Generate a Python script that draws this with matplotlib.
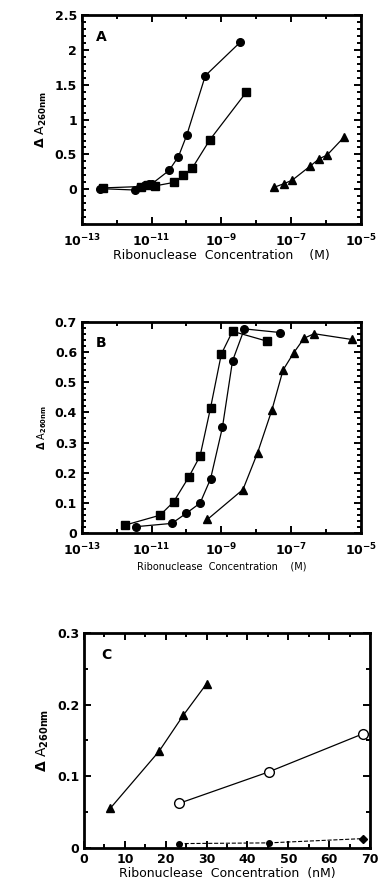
import numpy as np
import matplotlib
matplotlib.use("Agg")
import matplotlib.pyplot as plt
from matplotlib.ticker import MultipleLocator, FixedLocator, NullFormatter

plt.rcParams['font.family'] = ['DejaVu Sans']
plt.rcParams['font.weight'] = 'bold'
plt.rcParams['mathtext.default'] = 'bf'

# panel A (log10 of concentration, M)
a_circ_logx = [-12.49, -11.49, -11.34, -11.18, -11.08, -10.99, -10.50, -10.23, -9.99, -9.46, -8.46]
a_circ_y = [0.01, -0.01, 0.03, 0.06, 0.07, 0.08, 0.27, 0.47, 0.78, 1.63, 2.11]
a_sq_logx = [-12.39, -11.30, -11.10, -10.89, -10.35, -10.09, -9.84, -9.33, -8.29]
a_sq_y = [0.02, 0.04, 0.06, 0.05, 0.10, 0.20, 0.30, 0.71, 1.39]
a_tri_logx = [-7.48, -7.21, -6.97, -6.46, -6.19, -5.97, -5.48]
a_tri_y = [0.03, 0.08, 0.13, 0.33, 0.44, 0.49, 0.75]

# panel B
b_sq_logx = [-11.77, -10.76, -10.37, -9.94, -9.61, -9.31, -9.00, -8.68, -7.68]
b_sq_y = [0.027, 0.060, 0.104, 0.185, 0.256, 0.415, 0.593, 0.668, 0.635]
b_circ_logx = [-11.46, -10.42, -10.01, -9.61, -9.31, -8.97, -8.68, -8.34, -7.32]
b_circ_y = [0.022, 0.033, 0.066, 0.100, 0.180, 0.350, 0.570, 0.676, 0.664]
b_tri_logx = [-9.40, -8.38, -7.96, -7.55, -7.23, -6.93, -6.63, -6.34, -5.26]
b_tri_y = [0.046, 0.145, 0.267, 0.408, 0.540, 0.596, 0.645, 0.660, 0.641]

# panel C (nM)
c_tri_x = [6.4, 18.4, 24.3, 30.0]
c_tri_y = [0.055, 0.135, 0.185, 0.229]
c_open_x = [23.2, 45.2, 68.2]
c_open_y = [0.062, 0.106, 0.159]
c_dash_x = [23.2, 45.2, 68.4]
c_dash_y = [0.006, 0.007, 0.013]

log_ticklabels = [r'$10^{-13}$', r'$10^{-11}$', r'$10^{-9}$', r'$10^{-7}$', r'$10^{-5}$']
xlabel_M = 'Ribonuclease  Concentration    (M)'
ylabel = r'$\Delta$ A$_{260nm}$'

fig = plt.figure(figsize=(3.88, 8.86), dpi=100)
axA = fig.add_axes([0.211, 0.747, 0.719, 0.236])
axB = fig.add_axes([0.211, 0.398, 0.719, 0.239])
axC = fig.add_axes([0.2165, 0.043, 0.737, 0.2427])

mk = dict(color='black', lw=0.9, ms=5.5)


def style_log(ax):
    ax.set_xscale('log')
    ax.set_xlim(1e-13, 1e-5)
    ax.set_xticks([1e-13, 1e-11, 1e-9, 1e-7, 1e-5])
    ax.set_xticklabels(log_ticklabels)
    ax.xaxis.set_minor_locator(FixedLocator([10.0**k for k in range(-12, -5, 2)]))
    ax.xaxis.set_minor_formatter(NullFormatter())
    ax.tick_params(axis='x', which='major', pad=6)


for ax in (axA, axB, axC):
    for s in ax.spines.values():
        s.set_linewidth(2)
    ax.tick_params(which='both', direction='in', top=True, right=True, labelsize=9, width=1.4)
    ax.tick_params(which='major', length=5)
    ax.tick_params(which='minor', length=3)

# A
axA.plot(10.0**np.array(a_circ_logx), a_circ_y, marker='o', **mk)
axA.plot(10.0**np.array(a_sq_logx), a_sq_y, marker='s', **mk)
axA.plot(10.0**np.array(a_tri_logx), a_tri_y, marker='^', **mk)
style_log(axA)
axA.set_ylim(-0.5, 2.5)
axA.set_yticks([0, 0.5, 1, 1.5, 2, 2.5])
axA.set_yticklabels(['0', '0.5', '1', '1.5', '2', '2.5'])
axA.yaxis.set_minor_locator(MultipleLocator(0.1))
axA.set_xlabel(xlabel_M, fontsize=9, labelpad=0)
axA.set_ylabel(ylabel, fontsize=9)
axA.text(0.05, 0.93, 'A', transform=axA.transAxes, fontsize=10, va='top')

# B
axB.plot(10.0**np.array(b_sq_logx), b_sq_y, marker='s', **mk)
axB.plot(10.0**np.array(b_circ_logx), b_circ_y, marker='o', **mk)
axB.plot(10.0**np.array(b_tri_logx), b_tri_y, marker='^', **mk)
style_log(axB)
axB.set_ylim(0, 0.7)
axB.set_yticks(np.arange(0, 0.71, 0.1))
axB.set_yticklabels(['0', '0.1', '0.2', '0.3', '0.4', '0.5', '0.6', '0.7'])
axB.yaxis.set_minor_locator(MultipleLocator(0.02))
axB.set_xlabel(xlabel_M, fontsize=7, labelpad=2)
axB.set_ylabel(ylabel, fontsize=7)
axB.text(0.05, 0.93, 'B', transform=axB.transAxes, fontsize=10, va='top')

# C
axC.plot(c_tri_x, c_tri_y, marker='^', **mk)
axC.plot(c_open_x, c_open_y, marker='o', mfc='white', color='black', lw=0.9, ms=7)
axC.plot(c_dash_x[:2], c_dash_y[:2], marker='o', color='black', lw=0.8, ls='--', ms=4)
axC.plot(c_dash_x[1:], c_dash_y[1:], color='black', lw=0.8, ls='--')
axC.plot(c_dash_x[2:], c_dash_y[2:], marker='D', color='black', ms=4, lw=0)
axC.set_xlim(0, 70)
axC.set_ylim(0, 0.3)
axC.set_xticks(range(0, 71, 10))
axC.xaxis.set_minor_locator(MultipleLocator(5))
axC.set_yticks([0, 0.1, 0.2, 0.3])
axC.set_yticklabels(['0', '0.1', '0.2', '0.3'])
axC.yaxis.set_minor_locator(MultipleLocator(0.05))
axC.set_xlabel('Ribonuclease  Concentration  (nM)', fontsize=9, labelpad=1)
axC.set_ylabel(ylabel, fontsize=10)
axC.text(0.06, 0.93, 'C', transform=axC.transAxes, fontsize=10, va='top')

fig.savefig('out.png', dpi=100)
